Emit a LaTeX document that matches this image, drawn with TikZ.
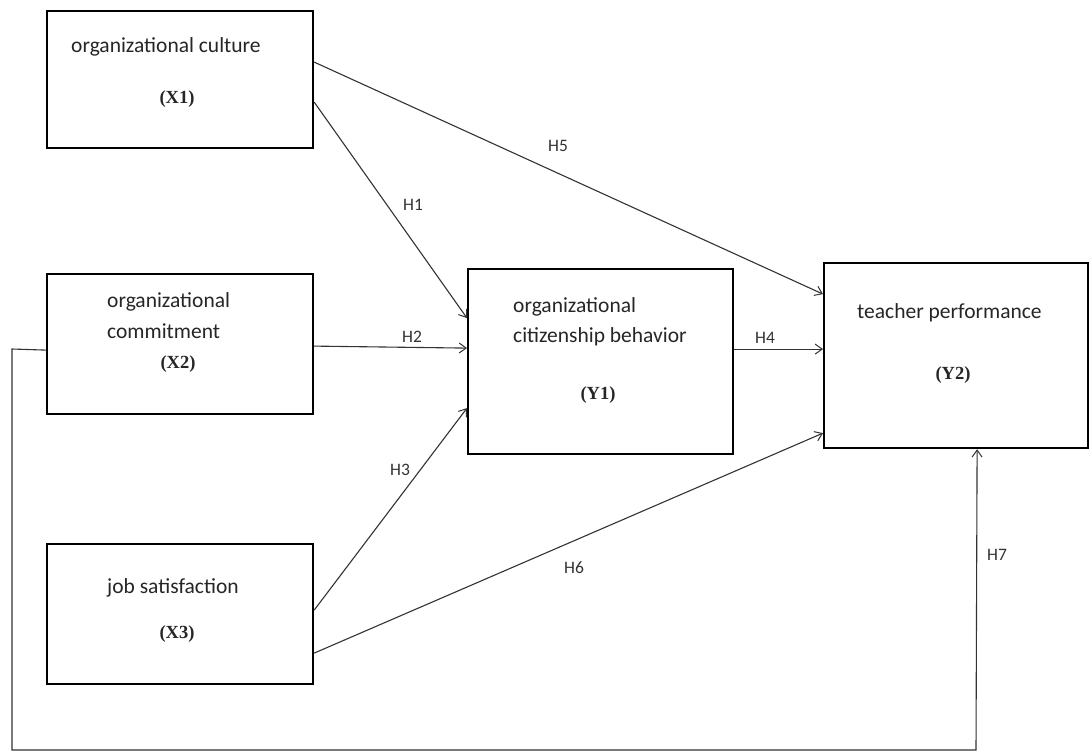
\documentclass[tikz,border=0pt]{standalone}
\usepackage{fontspec}
\setmainfont{Carlito}
\newfontfamily\timesb{Liberation Serif}
\usetikzlibrary{arrows.meta}
\begin{document}
\begin{tikzpicture}[x=1pt,y=-1pt,
  box/.style={draw=black,line width=2.2pt,inner sep=0pt,anchor=north west},
  txt/.style={anchor=base west,inner sep=0pt,font=\fontsize{21.5}{24}\selectfont,text=black!85},
  code/.style={anchor=base,inner sep=0pt,font=\timesb\bfseries\fontsize{18.5}{21}\selectfont,text=black!85},
  hlab/.style={inner sep=0pt,font=\fontsize{17.5}{19}\selectfont,text=black!80},
  link/.style={draw=black!80,line width=1.1pt,-{Straight Barb[length=7pt,width=10pt,line width=1pt]}}]
\useasboundingbox (0,0) rectangle (1089,753);
\fill[white] (0,0) rectangle (1089,753);
% boxes
\node[box,minimum width=266pt,minimum height=137pt] (X1) at (46,10) {};
\node[box,minimum width=266pt,minimum height=140pt] (X2) at (46,273) {};
\node[box,minimum width=266pt,minimum height=140pt] (X3) at (46,543) {};
\node[box,minimum width=265pt,minimum height=185pt] (Y1) at (467,268) {};
\node[box,minimum width=264pt,minimum height=185pt] (Y2) at (823,262) {};
% texts
\node[txt] (t1) at (71,52) {organizational culture};
\node[code] (c1) at (177,103) {(X1)};
\node[txt] (t2a) at (107,307) {organizational};
\node[txt] (t2b) at (107,338) {commitment};
\node[code] (c2) at (178,368) {(X2)};
\node[txt] (t3) at (107,593) {job satisfaction};
\node[code] (c3) at (177,638) {(X3)};
\node[txt] (t4a) at (513,312) {organizational};
\node[txt] (t4b) at (513,342) {citizenship behavior};
\node[code] (c4) at (598,399) {(Y1)};
\node[txt] (t5) at (857,318) {teacher performance};
\node[code] (c5) at (953,379) {(Y2)};
% connectors
\draw[link] ([yshift=17.5pt]X1.east) -- ([yshift=61.5pt]Y2.west);
\draw[link] ([yshift=-22.5pt]X1.east) -- ([yshift=43.5pt]Y1.west);
\draw[link] ([yshift=-2pt]X2.east) -- ([yshift=13.5pt]Y1.west);
\draw[link] ([yshift=4pt]X3.east) -- ([yshift=-46.5pt]Y1.west);
\draw[link] ([yshift=-39pt]X3.east) -- ([yshift=-77.5pt]Y2.west);
\draw[link] ([yshift=12.5pt]Y1.east) -- ([yshift=6.5pt]Y2.west);
\coordinate (fb1) at (12,349);
\coordinate (fb2) at (12,750);
\coordinate (fb3) at (976,750);
\draw[link] ([yshift=-6pt]X2.west) -- (fb1) -- (fb2) -- (fb3) -- ([xshift=21pt]Y2.south);
% labels
\node[hlab] (h5) at (558,146) {H5};
\node[hlab] (h1) at (413,205) {H1};
\node[hlab] (h2) at (412,337) {H2};
\node[hlab] (h3) at (400,470) {H3};
\node[hlab] (h4) at (765,338) {H4};
\node[hlab] (h6) at (574,568) {H6};
\node[hlab] (h7) at (997,555) {H7};
\end{tikzpicture}
\end{document}
